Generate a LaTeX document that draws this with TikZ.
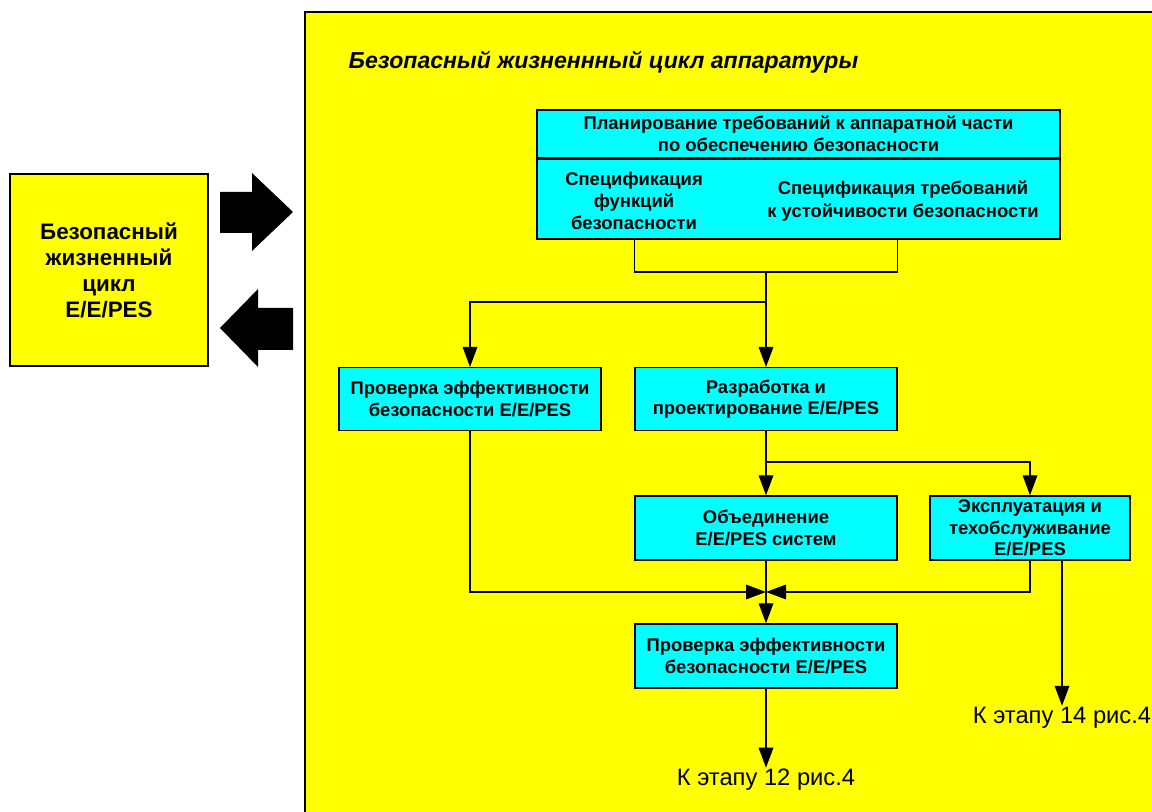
\documentclass[tikz,border=0pt]{standalone}
\usepackage{fontspec}
\setmainfont{Liberation Sans}
\usetikzlibrary{arrows.meta}
\definecolor{lifeyellow}{RGB}{255,255,0}
\definecolor{stagecyan}{RGB}{0,255,255}

\begin{document}
\begin{tikzpicture}[x=0.75pt,y=-0.75pt,
	box/.style={
		shape=rectangle, draw, fill=stagecyan,
		line width=1.1pt,
		minimum width=196.5pt, minimum height=47pt,
		font=\bfseries\fontsize{13.8}{16.2}\selectfont,
		align=center, inner sep=0pt},
	stagetext/.style={font=\fontsize{17.8}{20}\selectfont, inner sep=1pt},
	arr/.style={-{Triangle[length=15pt,width=11pt]}, line width=0.9pt},
	link/.style={line width=0.9pt}]
	\useasboundingbox (0,0) rectangle (1152,812);
	% frame of the hardware life cycle
	\fill[lifeyellow] (305,12) rectangle (1152,812);
	\draw[line width=2pt] (1152,12) -- (305,12) -- (305,812);
	\node [anchor=west, font=\bfseries\itshape\fontsize{17.3}{20}\selectfont] (title) at (344,62) {Безопасный жизненнный цикл аппаратуры};
	\node [draw, fill=lifeyellow, line width=1.5pt, minimum width=148.5pt, minimum height=144pt, align=center, font=\bfseries\fontsize{16.8}{19.5}\selectfont] (life) at (109,270) {Безопасный\\жизненный\\цикл\\E/E/PES};
	% big arrows
	\fill (220,192) -- (252,192) -- (252,173) -- (293,212) -- (252,251) -- (252,233) -- (220,233) -- cycle;
	\fill (293,308) -- (258,308) -- (258,289) -- (220,328) -- (258,367) -- (258,350) -- (293,350) -- cycle;
	% boxes
	\node [box, minimum width=392pt, minimum height=36pt] (plan) at (798.5,134) {Планирование требований к аппаратной части\\по обеспечению безопасности};
	\node [box, minimum width=392pt, minimum height=60pt] (spec) at (798.5,199) {};
	\node [font=\bfseries\fontsize{13.8}{16.8}\selectfont, align=center] (specf) at (634,201) {Спецификация\\функций\\безопасности};
	\node [font=\bfseries\fontsize{13.8}{16.8}\selectfont, align=center] (specr) at (903,201) {Спецификация требований\\к устойчивости безопасности};
	\node [box] (chk1) at (470,399) {Проверка эффективности\\безопасности E/E/PES};
	\node [box] (dev) at (766,399) {Разработка и\\проектирование E/E/PES};
	\node [box, minimum height=48pt] (int) at (766,528) {Объединение\\E/E/PES систем};
	\node [box, minimum width=150pt, minimum height=48pt] (ops) at (1030,528) {Эксплуатация и\\техобслуживание\\E/E/PES};
	\node [box, minimum height=48pt] (chk2) at (766,656) {Проверка эффективности\\безопасности E/E/PES};
	\node [stagetext] (out12) at (766,780) {К этапу 12 рис.4};
	\node [stagetext] (out14) at (1062,718) {К этапу 14 рис.4};
	\coordinate (j1) at (766,272);
	\coordinate (j2) at (766,302);
	\coordinate (j3) at (766,462);
	\coordinate (j4) at (766,592);
	% connectors
	\draw [link] (spec.south -| dev.west) |- (j1) -| (spec.south -| dev.east);
	\draw [arr] (j1) -- (dev.north);
	\draw [arr] (j2) -| (chk1.north);
	\draw [link] (dev.south) -- (j3);
	\draw [arr] (j3) -- (int.north);
	\draw [arr] (j3) -| (ops.north);
	\draw [arr] (chk1.south) |- (j4);
	\draw [arr] (ops.south) |- (j4);
	\draw [arr] (int.south) -- (chk2.north);
	\draw [arr] (chk2.south) -- (out12.north);
	\draw [arr] (out14.north |- ops.south) -- (out14.north);
\end{tikzpicture}
\end{document}
